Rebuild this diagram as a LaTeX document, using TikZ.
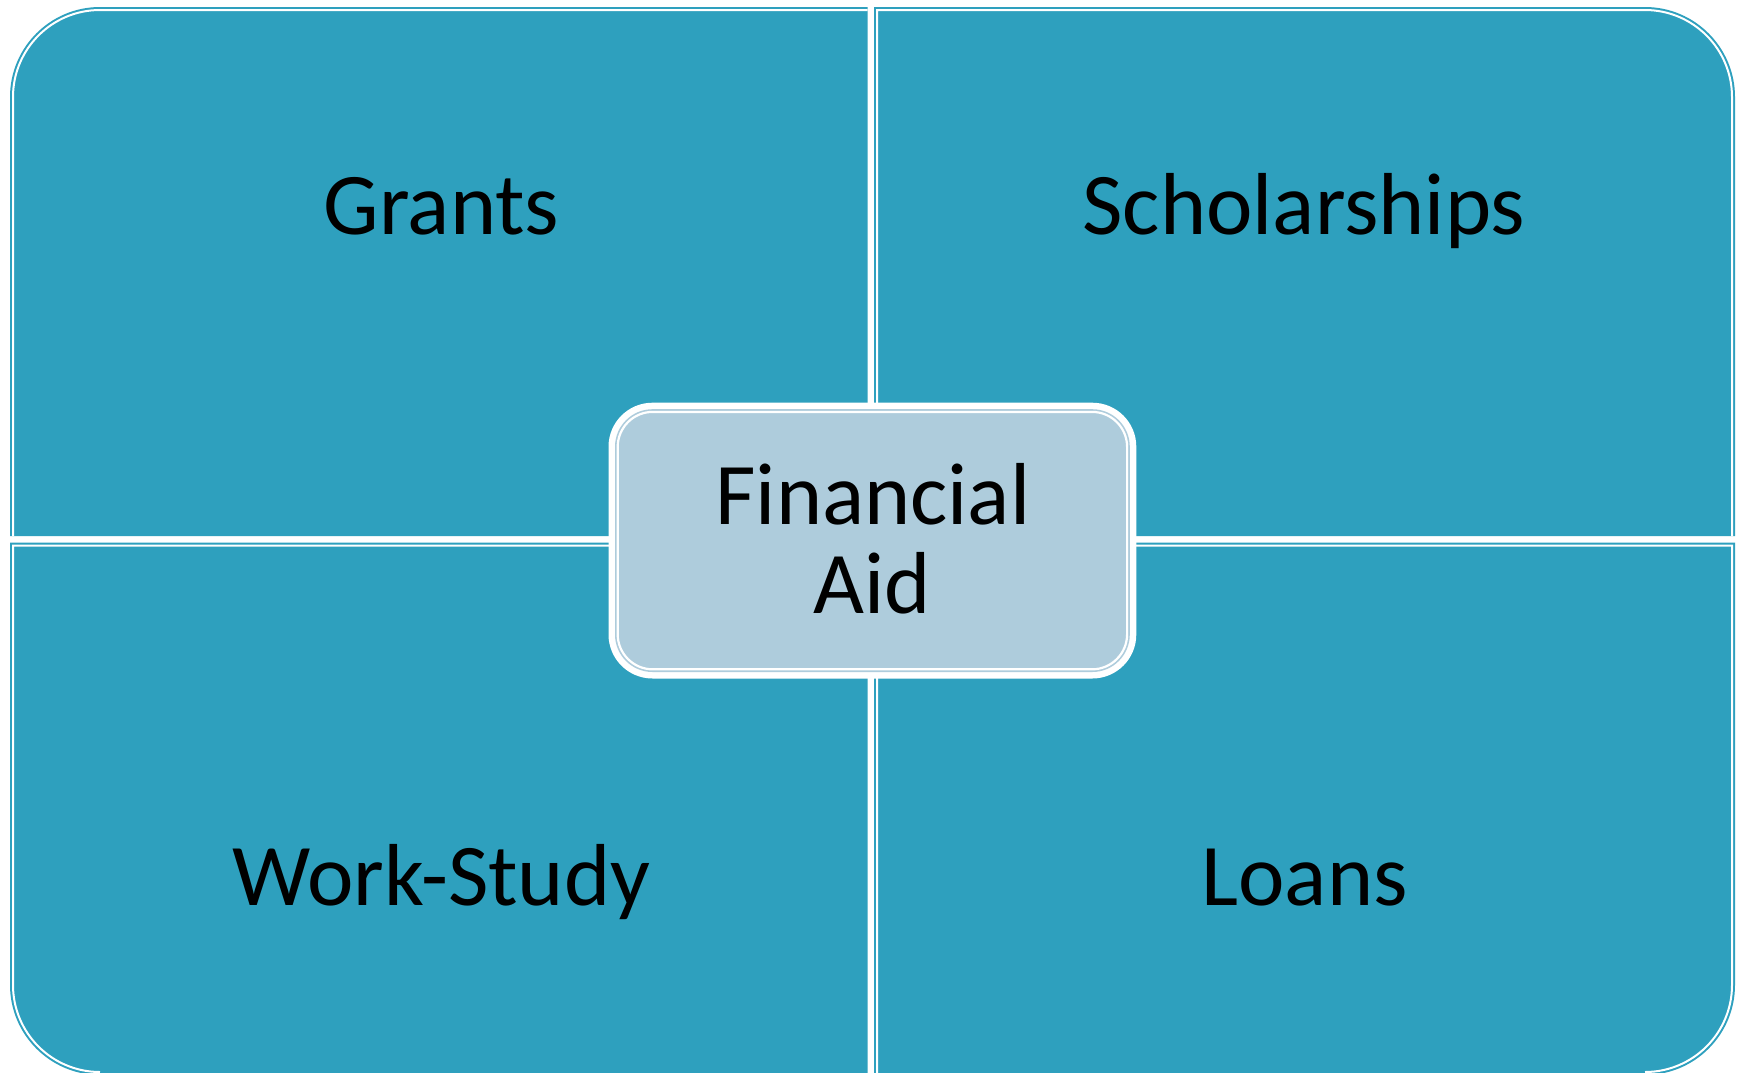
\documentclass[tikz,border=0pt]{standalone}
\usepackage{fontspec}
\setmainfont{Carlito}
\definecolor{quad}{RGB}{46,160,190}
\definecolor{hubfill}{RGB}{174,204,220}
\begin{document}
\begin{tikzpicture}[x=1pt,y=-1pt,
  quadfill/.style={fill=quad},
  innerline/.style={draw=white,line width=2pt},
  lbl/.style={font=\fontsize{88}{89}\selectfont,text=black,anchor=base,inner sep=0pt}]
\useasboundingbox (0,0) rectangle (1741,1072);
\fill[white] (0,0) rectangle (1741,1072);
\begin{scope}
\clip (0,0) rectangle (1741,1072);
% top-left quadrant
\fill[quadfill] (867.5,536) -- (10,536) -- (10,97) arc[start angle=180,end angle=270,radius=90] -- (867.5,7) -- cycle;
\draw[innerline] (13,536) -- (13,97) arc[start angle=180,end angle=270,radius=87] -- (867.5,10);
% top-right quadrant
\fill[quadfill] (874,536) -- (874,7) -- (1645,7) arc[start angle=270,end angle=360,radius=90] -- (1735,536) -- cycle;
\draw[innerline] (877,536) -- (877,10) -- (1645,10) arc[start angle=270,end angle=360,radius=87] -- (1732,536);
% bottom-left quadrant
\fill[quadfill] (10,542.7) -- (867.5,542.7) -- (867.5,1075) -- (100,1075) arc[start angle=90,end angle=180,radius=90] -- cycle;
\draw[innerline] (867.5,545.7) -- (13,545.7) -- (13,985) arc[start angle=180,end angle=90,radius=87];
% bottom-right quadrant
\fill[quadfill] (874,542.7) -- (1735,542.7) -- (1735,985) arc[start angle=0,end angle=90,radius=90] -- (874,1075) -- cycle;
\draw[innerline] (877,1075) -- (877,545.7) -- (1732,545.7) -- (1732,985) arc[start angle=0,end angle=90,radius=87];
\end{scope}
% central hub
\fill[white,rounded corners=44pt] (608.5,402.7) rectangle (1136.3,678.5);
\fill[hubfill,rounded corners=37.5pt] (615,409.2) rectangle (1129.8,672);
\draw[white,line width=2.2pt,rounded corners=35pt] (617.7,411.9) rectangle (1127.1,669.3);
% labels
\node[lbl] (grants) at (441.4,234.3) {Grants};
\node[lbl] (scholarships) at (1304,234.3) {Scholarships};
\node[lbl] (workstudy) at (441.4,905) {Work-Study};
\node[lbl] (loans) at (1304.7,905) {Loans};
\node[lbl] (financial) at (873,524) {Financial};
\node[lbl] (aid) at (872.5,613) {Aid};
\end{tikzpicture}
\end{document}
